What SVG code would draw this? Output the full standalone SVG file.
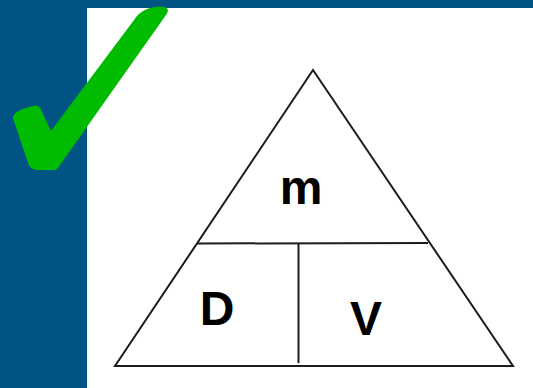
<svg xmlns="http://www.w3.org/2000/svg" width="533" height="388" viewBox="0 0 533 388">
<style>
.ln{stroke:#1c1c1c;stroke-width:2;fill:none;stroke-linejoin:miter}
.lbl{font-family:"Liberation Sans",Arial,sans-serif;font-weight:bold;font-size:48px;fill:#000;text-anchor:middle}
</style>
<rect x="0" y="0" width="533" height="388" fill="#005484"/>
<rect x="87" y="8" width="446" height="380" fill="#ffffff"/>
<g id="triangle">
<polygon class="ln" points="313,70 115,366 513,366"/>
</g>
<g id="connectors">
<line class="ln" x1="197" y1="243.5" x2="428" y2="243"/>
<line class="ln" x1="298.5" y1="243.5" x2="298.5" y2="363"/>
</g>
<g id="node-m"><text class="lbl" x="301" y="204">m</text></g>
<g id="node-D"><text class="lbl" x="217" y="325">D</text></g>
<g id="node-V"><text class="lbl" x="366" y="335">V</text></g>
<g id="check">
<path fill="#00bb00" d="M33,106 C24,108 13,112 13,118 L28,163 C30,168 33,170 38,170 L53,170 C57,170 58,168 60,165 L166,15 C171,8 166,6 156,7 C146,8 139,12 134,20 L51,131 L41,110 C40,106 37,105 33,106 Z"/>
</g>
</svg>
